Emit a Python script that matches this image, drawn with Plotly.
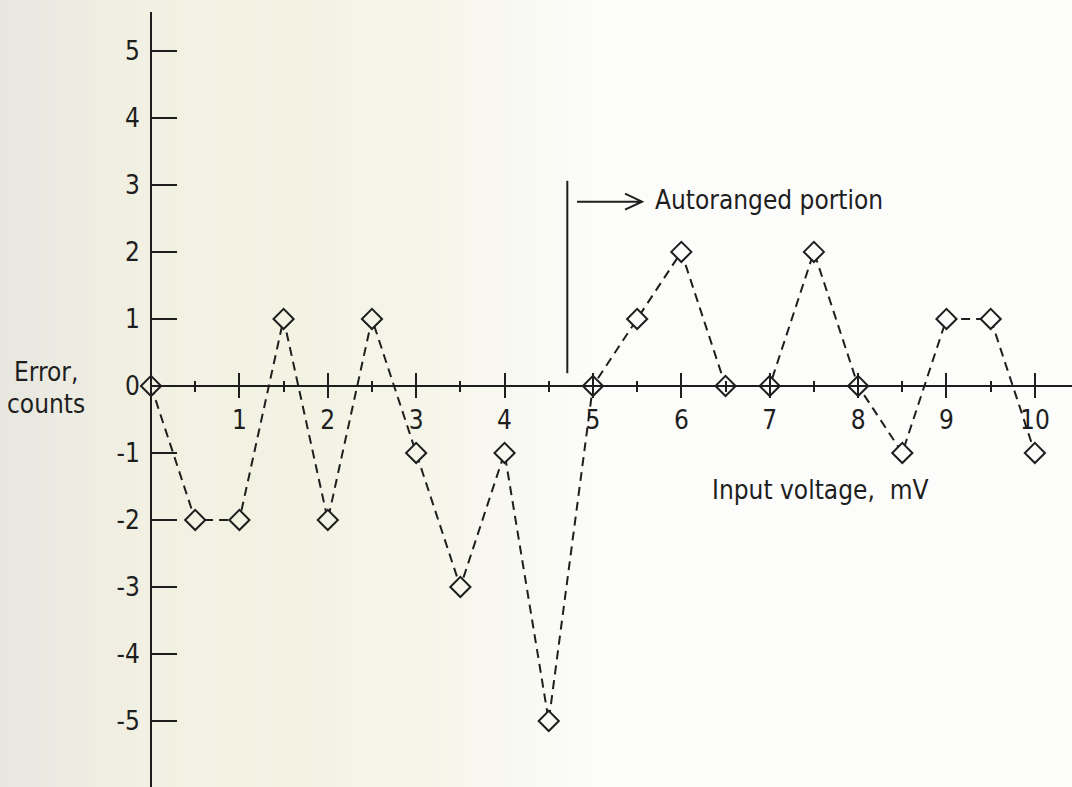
import plotly.graph_objects as go

# Input voltage steps (mV) and the measured error (counts)
input_voltage_mv = [0, 0.5, 1, 1.5, 2, 2.5, 3, 3.5, 4, 4.5, 5,
                    5.5, 6, 6.5, 7, 7.5, 8, 8.5, 9, 9.5, 10]
error_counts = [0, -2, -2, 1, -2, 1, -1, -3, -1, -5, 0,
                1, 2, 0, 0, 2, 0, -1, 1, 1, -1]

x_tick_vals = [1, 2, 3, 4, 5, 6, 7, 8, 9, 10]
x_tick_text = ["1", "2", "3", "4", "5", "6", "7", "8", "9", "10"]
x_minor_vals = [0.5, 1.5, 2.5, 3.5, 4.5, 5.5, 6.5, 7.5, 8.5, 9.5]
y_tick_vals = [-5, -4, -3, -2, -1, 0, 1, 2, 3, 4, 5]
y_tick_text = ["-5", "-4", "-3", "-2", "-1", "0", "1", "2", "3", "4", "5"]

autorange_start_mv = 4.71

# ---- layout constants -------------------------------------------------------
W, H = 1072, 787
ML, MR, MT, MB = 151, 0, 12, 0
X_RANGE = [0, 10.42]
Y_RANGE = [-5.985, 5.58]
INK = "#1e1e1e"
FONT = "DejaVu Sans Condensed, Liberation Sans Narrow, Arial Narrow, sans-serif"
PLOT_W = W - ML - MR
PLOT_H = H - MT - MB

# paper tint: cream on the left fading to near white on the right
tint_px = [0, 60, 140, 300, 430, 520, 610, W]
tint_rgb = [(231, 230, 223), (236, 235, 226), (241, 240, 226), (243, 243, 228),
            (245, 245, 234), (249, 249, 243), (252, 252, 250), (252, 252, 250)]


def tint_at(px):
    for i in range(len(tint_px) - 1):
        a, b = tint_px[i], tint_px[i + 1]
        if px <= b:
            t = 0 if b == a else max(0.0, (px - a) / (b - a))
            c = [round(tint_rgb[i][k] + (tint_rgb[i + 1][k] - tint_rgb[i][k]) * t) for k in range(3)]
            return "rgb(%d,%d,%d)" % tuple(c)
    return "rgb(%d,%d,%d)" % tint_rgb[-1]


def paper_x(px):
    return (px - ML) / PLOT_W


shapes = []
step = 8
for px in range(0, 640, step):
    shapes.append(dict(type="rect", xref="paper", yref="paper", layer="below",
                       x0=paper_x(px), x1=paper_x(px + step + 1), y0=-0.05, y1=1.05,
                       fillcolor=tint_at(px + step / 2), line=dict(width=0)))

# marker fill follows the paper tint so the dashes stop at the diamond edge
marker_fill = [tint_at(ML + (v - X_RANGE[0]) / (X_RANGE[1] - X_RANGE[0]) * PLOT_W)
               for v in input_voltage_mv]

fig = go.Figure()
fig.add_trace(go.Scatter(
    x=input_voltage_mv, y=error_counts, mode="lines+markers",
    line=dict(color=INK, width=2, dash="9px,6px"),
    marker=dict(symbol="diamond", size=15.5, color=marker_fill,
                line=dict(color=INK, width=2)),
    cliponaxis=False, showlegend=False, hoverinfo="skip",
))
# empty trace carrying the upper half of the x-axis tick marks
fig.add_trace(go.Scatter(x=[None], y=[None], xaxis="x2", yaxis="y",
                         showlegend=False, hoverinfo="skip"))

# boundary of the autoranged portion
shapes.append(dict(type="line", xref="x", yref="y", x0=autorange_start_mv, x1=autorange_start_mv,
                   y0=0.19, y1=3.06, line=dict(color=INK, width=2)))
# open-headed arrow pointing right
shapes.append(dict(type="path", xref="x", yref="y", xsizemode="pixel", ysizemode="pixel",
                   xanchor=4.82, yanchor=2.75,
                   path="M0,0 L65,0 M48,-8 L65,0 L48,8",
                   line=dict(color=INK, width=2)))

x_pos = (0 - Y_RANGE[0]) / (Y_RANGE[1] - Y_RANGE[0])

fig.update_layout(
    width=W, height=H,
    margin=dict(l=ML, r=MR, t=MT, b=MB, pad=0),
    paper_bgcolor=tint_at(W), plot_bgcolor="rgba(0,0,0,0)",
    font=dict(family=FONT, size=26, color=INK),
    shapes=shapes,
    xaxis=dict(range=X_RANGE, anchor="free", position=x_pos, side="bottom",
               showgrid=False, zeroline=False, showline=True, linecolor=INK, linewidth=2,
               tickmode="array", tickvals=x_tick_vals, ticktext=x_tick_text,
               ticks="outside", ticklen=11, tickwidth=2, tickcolor=INK,
               ticklabelstandoff=0,
               minor=dict(tickmode="array", tickvals=x_minor_vals, ticks="outside",
                          ticklen=5, tickwidth=2, tickcolor=INK, showgrid=False),
               tickfont=dict(family=FONT, size=26, color=INK)),
    xaxis2=dict(range=X_RANGE, matches="x", overlaying="x", anchor="free", position=x_pos,
                side="bottom", showgrid=False, zeroline=False, showline=False,
                tickmode="array", tickvals=x_tick_vals, showticklabels=False,
                ticks="inside", ticklen=13, tickwidth=2, tickcolor=INK,
                minor=dict(tickmode="array", tickvals=x_minor_vals, ticks="inside",
                           ticklen=5, tickwidth=2, tickcolor=INK, showgrid=False)),
    yaxis=dict(range=Y_RANGE, anchor="free", position=0, side="left",
               showgrid=False, zeroline=False,
               showline=True, linecolor=INK, linewidth=2,
               tickmode="array", tickvals=y_tick_vals, ticktext=y_tick_text,
               ticks="inside", ticklen=25, tickwidth=2, tickcolor=INK,
               ticklabelstandoff=5,
               tickfont=dict(family=FONT, size=26, color=INK)),
    annotations=[
        dict(text="Error,", xref="paper", yref="paper", x=paper_x(46), y=(H - 372) / PLOT_H,
             xanchor="center", yanchor="middle", showarrow=False),
        dict(text="counts", xref="paper", yref="paper", x=paper_x(46), y=(H - 404) / PLOT_H,
             xanchor="center", yanchor="middle", showarrow=False),
        dict(text="Input voltage,  mV", xref="x", yref="y", x=6.32, y=-1.55,
             xanchor="left", yanchor="middle", showarrow=False),
        dict(text="Autoranged portion", xref="x", yref="y", x=5.68, y=2.78,
             xanchor="left", yanchor="middle", showarrow=False),
    ],
)

fig.write_html("out.html")
